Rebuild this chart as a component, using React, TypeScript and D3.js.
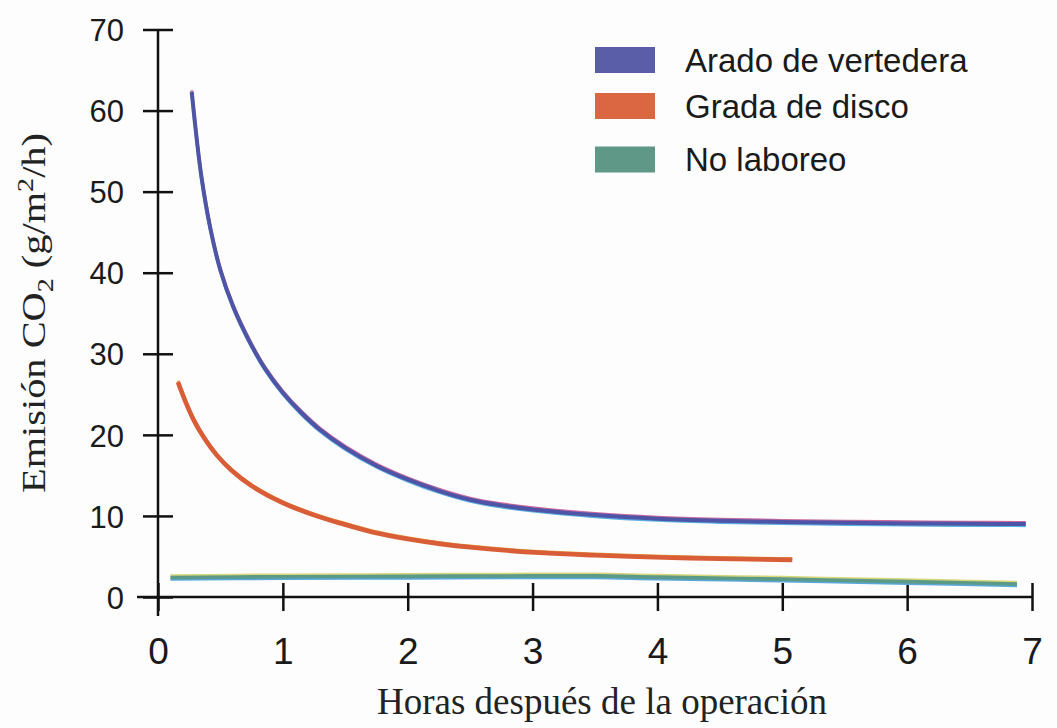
import React, { useEffect, useRef } from 'react';
import * as d3 from 'd3';

// hours after operation / CO2 emission (g/m2/h)
const aradoX = [0.27, 0.31, 0.35, 0.42, 0.5, 0.6, 0.73, 0.86, 1.0, 1.15, 1.3, 1.5, 1.75, 2.0, 2.25, 2.5, 2.75, 3.0, 3.5, 4.0, 4.5, 5.0, 5.5, 6.0, 6.5, 6.95];
const aradoY = [62.3, 56.5, 51.6, 45.4, 40.3, 35.9, 31.6, 28.1, 25.2, 22.7, 20.6, 18.4, 16.2, 14.5, 13.1, 12.0, 11.3, 10.8, 10.1, 9.65, 9.4, 9.25, 9.15, 9.08, 9.03, 9.0];

const gradaX = [0.16, 0.22, 0.28, 0.37, 0.47, 0.59, 0.75, 1.0, 1.25, 1.46, 1.72, 2.0, 2.26, 2.52, 3.06, 3.5, 4.05, 4.5, 5.08];
const gradaY = [26.5, 24.1, 22.0, 19.6, 17.5, 15.6, 13.7, 11.6, 10.1, 9.1, 8.0, 7.15, 6.55, 6.1, 5.45, 5.15, 4.88, 4.72, 4.58];

const noLabX = [0.1, 1.0, 2.0, 3.0, 3.5, 4.0, 5.0, 6.0, 6.88];
const noLabY = [2.4, 2.5, 2.55, 2.6, 2.6, 2.45, 2.2, 1.9, 1.6];

const seriesNames = ['Arado de vertedera', 'Grada de disco', 'No laboreo'];
const xTicks = [0, 1, 2, 3, 4, 5, 6, 7];
const yTicks = [0, 10, 20, 30, 40, 50, 60, 70];

export default function App() {
  const svgRef = useRef(null);

  useEffect(() => {
    const w = 1057;
    const h = 728;
    const svg = d3.select(svgRef.current).attr('width', w).attr('height', h);
    svg.selectAll('*').remove();

    svg.append('rect').attr('width', w).attr('height', h).attr('fill', '#fdfdfd');

    const xScale = d3.scaleLinear().domain([0, 7]).range([158, 1032]);
    const yScale = d3.scaleLinear().domain([0, 70]).range([597, 29.5]);

    const sans = '"Liberation Sans", Arial, sans-serif';
    const serif = '"Liberation Serif", "Times New Roman", serif';

    // axes
    const yAxis = d3.axisLeft(yScale).tickValues(yTicks).tickSize(0).tickPadding(34);
    const gy = svg.append('g').attr('transform', `translate(${xScale(0)},0)`).call(yAxis);
    gy.select('.domain').remove();
    gy.selectAll('.tick line').attr('x1', -15).attr('x2', 15).attr('stroke', '#111').attr('stroke-width', 2.5);
    gy.selectAll('.tick text')
      .attr('font-family', sans)
      .attr('font-size', 31)
      .attr('fill', '#1a1a1a')
      .attr('dy', '0.36em');

    const xAxis = d3.axisBottom(xScale).tickValues(xTicks).tickSize(0).tickFormat(d3.format('d'));
    const gx = svg.append('g').attr('transform', `translate(0,${yScale(0)})`).call(xAxis);
    gx.select('.domain').remove();
    gx.selectAll('.tick line').attr('y1', -14).attr('y2', 14).attr('stroke', '#111').attr('stroke-width', 2.5);
    gx.selectAll('.tick text')
      .attr('font-family', sans)
      .attr('font-size', 37)
      .attr('fill', '#1a1a1a')
      .attr('y', 67)
      .attr('dy', 0);

    svg.append('line')
      .attr('x1', xScale(0)).attr('x2', xScale(0))
      .attr('y1', yScale(70)).attr('y2', yScale(0) + 19)
      .attr('stroke', '#111').attr('stroke-width', 2.5);
    svg.append('line')
      .attr('x1', xScale(0) - 21).attr('x2', xScale(7))
      .attr('y1', yScale(0)).attr('y2', yScale(0))
      .attr('stroke', '#111').attr('stroke-width', 2.5);

    // lines, each with misregistered edge colours like the print
    const line = d3.line<number>()
      .x((d) => xScale(d[0]))
      .y((d) => yScale(d[1]))
      .curve(d3.curveCatmullRom.alpha(0.5));

    const series = [
      { pts: aradoX.map((x, i) => [x, aradoY[i]]), layers: [[1.6, '#5ab0e2', 3], [-1.6, '#c86a9e', 3], [0, '#4f55a6', 4]] },
      { pts: gradaX.map((x, i) => [x, gradaY[i]]), layers: [[-1.4, '#e0a040', 2.6], [0, '#d95d37', 4.6]] },
      { pts: noLabX.map((x, i) => [x, noLabY[i]]), layers: [[-1.8, '#d6d67a', 3], [1.8, '#5aa8d8', 3], [0, '#5b9a88', 3.6]] },
    ];
    series.forEach((s) => {
      s.layers.forEach(([dy, color, sw]: any) => {
        svg.append('path')
          .attr('d', line(s.pts as any))
          .attr('transform', `translate(0,${dy})`)
          .attr('fill', 'none')
          .attr('stroke', color)
          .attr('stroke-width', sw)
          .attr('stroke-linecap', 'butt');
      });
    });

    // legend
    const legendColors = ['#5a5ea8', '#da6741', '#5f9886'];
    const legendY = [60, 106, 159.5];
    seriesNames.forEach((name, i) => {
      svg.append('rect')
        .attr('x', 595).attr('y', legendY[i] - 13)
        .attr('width', 60).attr('height', 26)
        .attr('fill', legendColors[i]);
      svg.append('text')
        .attr('x', 685).attr('y', legendY[i] + 11.5)
        .attr('font-family', sans)
        .attr('font-size', 33)
        .attr('fill', '#1a1a1a')
        .text(name);
    });

    // axis titles
    svg.append('text')
      .attr('x', 602).attr('y', 714)
      .attr('text-anchor', 'middle')
      .attr('font-family', serif)
      .attr('font-size', 37)
      .attr('fill', '#222')
      .attr('textLength', 450)
      .attr('lengthAdjust', 'spacingAndGlyphs')
      .text('Horas después de la operación');

    const yt = svg.append('text')
      .attr('transform', 'translate(45,313) rotate(-90)')
      .attr('text-anchor', 'middle')
      .attr('font-family', serif)
      .attr('font-size', 33)
      .attr('fill', '#222')
      .attr('textLength', 360)
      .attr('lengthAdjust', 'spacingAndGlyphs');
    yt.append('tspan').text('Emisión CO');
    yt.append('tspan').attr('font-size', 23).attr('dy', 8).text('2');
    yt.append('tspan').attr('dy', -8).text(' (g/m');
    yt.append('tspan').attr('font-size', 23).attr('dy', -12).text('2');
    yt.append('tspan').attr('dy', 12).text('/h)');
  }, []);

  return (
    <div style={{ position: 'absolute', left: 0, top: 0 }}>
      <svg ref={svgRef} style={{ display: 'block' }}></svg>
    </div>
  );
}
